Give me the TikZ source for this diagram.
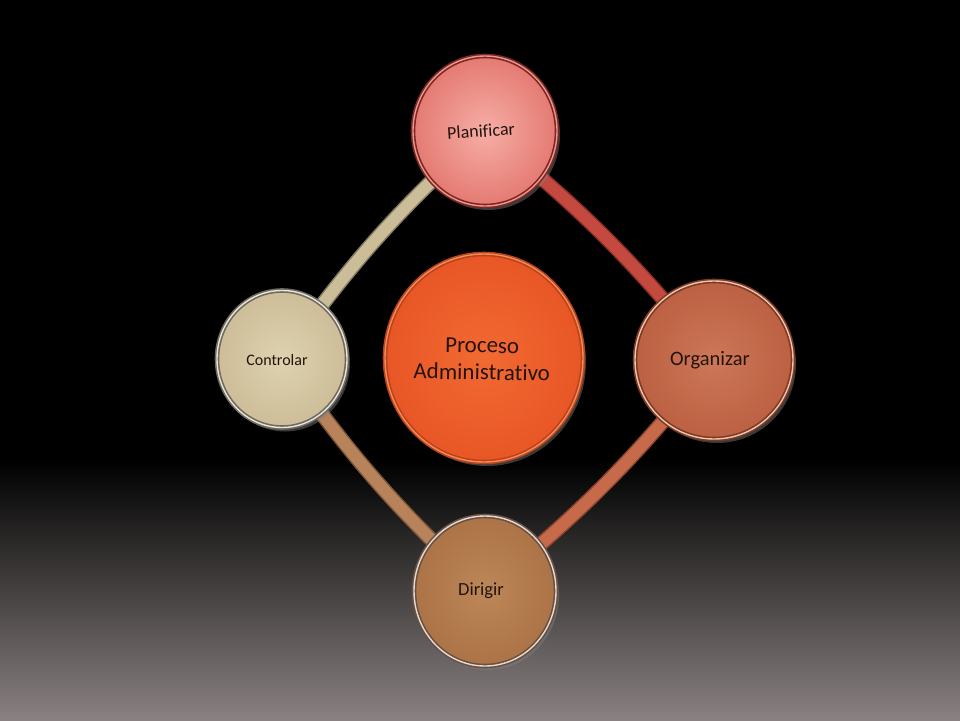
\documentclass[tikz,border=0pt]{standalone}
\usepackage{fontspec}
\setmainfont[Ligatures={NoCommon,NoRequired,NoContextual}]{Carlito}
\usetikzlibrary{shapes.geometric,shadows}
\pgfdeclarelayer{back}
\pgfdeclarelayer{bands}
\pgfsetlayers{back,bands,main}
\definecolor{bgbottom}{HTML}{8A8282}
\definecolor{txt}{HTML}{24140E}
% Planificar
\definecolor{pIn}{HTML}{F6AEA6}
\definecolor{pOut}{HTML}{E47A72}
\definecolor{pRim}{HTML}{7E2622}
\definecolor{pHi}{HTML}{E89890}
% Organizar
\definecolor{oIn}{HTML}{CC7858}
\definecolor{oOut}{HTML}{BC6042}
\definecolor{oRim}{HTML}{7A3A26}
\definecolor{oHi}{HTML}{F0C4AA}
% Controlar
\definecolor{cIn}{HTML}{DED2B0}
\definecolor{cOut}{HTML}{CDBD98}
\definecolor{cRim}{HTML}{6E6A60}
\definecolor{cHi}{HTML}{E8E4DA}
% Dirigir
\definecolor{dIn}{HTML}{BC8758}
\definecolor{dOut}{HTML}{AC7346}
\definecolor{dRim}{HTML}{6A5040}
\definecolor{dHi}{HTML}{E4DCD4}
% Centre
\definecolor{mIn}{HTML}{F26A32}
\definecolor{mOut}{HTML}{E85626}
\definecolor{mRim}{HTML}{B8441C}
\definecolor{mHi}{HTML}{F58A58}
% bands
\definecolor{bPO}{HTML}{C44A40}
\definecolor{bPOe}{HTML}{8A2E28}
\definecolor{bOD}{HTML}{C66A4A}
\definecolor{bODe}{HTML}{8C4430}
\definecolor{bDC}{HTML}{B8835A}
\definecolor{bDCe}{HTML}{7E5838}
\definecolor{bCP}{HTML}{CBBD98}
\definecolor{bCPe}{HTML}{857B64}
\begin{document}
\begin{tikzpicture}[x=1pt,y=-1pt,
  disc/.style n args={4}{ellipse, inner sep=0pt,
    inner color=#1, outer color=#2,
    draw=#3, line width=1.6pt, double=#4, double distance=1.4pt,
    drop shadow={shadow xshift=3pt, shadow yshift=-4pt, opacity=0.45}},
  lbl/.style={font=\fontsize{#1}{#1}\selectfont, text=txt, align=center, inner sep=0pt},
  band/.style 2 args={line width=15pt, draw=#2, line cap=butt,
    postaction={draw=#1, line width=12pt}},
]
\useasboundingbox (0,0) rectangle (960,720);
\begin{pgfonlayer}{back}
  \fill[black] (0,0) rectangle (960,462);
  \shade[top color=black, bottom color=bgbottom] (0,460) rectangle (960,720);
\end{pgfonlayer}

% circles
\node[disc={pIn}{pOut}{pRim}{pHi}, minimum width=144pt, minimum height=150pt] (p) at (485,131) {};
\node[disc={oIn}{oOut}{oRim}{oHi}, minimum width=158pt, minimum height=158pt] (o) at (714,360) {};
\node[disc={cIn}{cOut}{cRim}{cHi}, minimum width=130pt, minimum height=137pt] (c) at (282,359) {};
\node[disc={dIn}{dOut}{dRim}{dHi}, minimum width=142pt, minimum height=150pt] (d) at (485,591) {};
\node[disc={mIn}{mOut}{mRim}{mHi}, minimum width=198pt, minimum height=208pt] (m) at (484,358) {};

% labels
\node[lbl=18, rotate=4] (tp) at (481,131) {Planificar};
\node[lbl=20.5] (to) at (710,360) {Organizar};
\node[lbl=16] (tc) at (277,360) {Controlar};
\node[lbl=18.5] (td) at (481,591) {Dirigir};
\node[font=\fontsize{23}{27}\selectfont, text=txt, align=center, inner sep=0pt, rotate=-1] (tm) at (482,359) {Proceso\\Administrativo};

% connecting bands
\begin{pgfonlayer}{bands}
  \draw[band={bPO}{bPOe}] (p.center) to[bend left=6] (o.center);
  \draw[band={bOD}{bODe}] (o.center) to[bend left=6] (d.center);
  \draw[band={bDC}{bDCe}] (d.center) to[bend left=6] (c.center);
  \draw[band={bCP}{bCPe}] (c.center) to[bend left=6] (p.center);
\end{pgfonlayer}
\end{tikzpicture}
\end{document}
